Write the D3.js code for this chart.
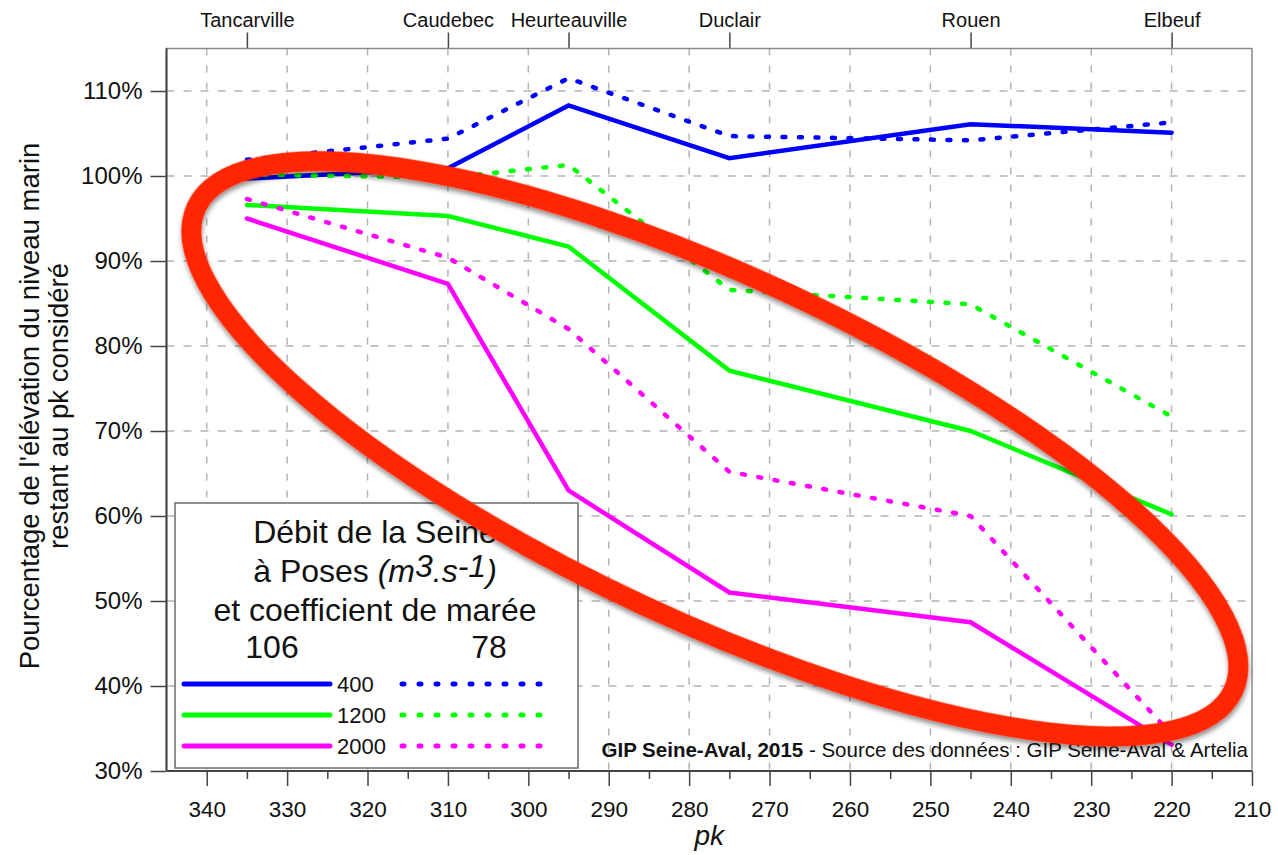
<!DOCTYPE html>
<html>
<head>
<meta charset="utf-8">
<script src="https://cdn.jsdelivr.net/npm/d3@7"></script>
<style>
  body { margin: 0; background: #fff; }
  text { font-family: "Liberation Sans", Arial, sans-serif; fill: #111; }
</style>
</head>
<body>
<div id="chart"></div>
<script>
var svgWidth = 1278;
var svgHeight = 855;

// locations along the Seine (pk) shown on the top axis
var locations = ["Tancarville", "Caudebec", "Heurteauville", "Duclair", "Rouen", "Elbeuf"];
var pkLocations = [335, 310, 295, 275, 245, 220];

// axis ticks
var pkTicks = [340, 330, 320, 310, 300, 290, 280, 270, 260, 250, 240, 230, 220, 210];
var pkMinorTicks = [335, 325, 315, 305, 295, 285, 275, 265, 255, 245, 235, 225, 215];
var pctTicks = [30, 40, 50, 60, 70, 80, 90, 100, 110];

// legend values
var debits = [400, 1200, 2000];
var coefficients = [106, 78];

// % of the sea level elevation remaining at each location
var q400_c106 = [99.7, 100.9, 108.3, 102.1, 106.1, 105.1];
var q400_c78 = [101.9, 104.4, 111.5, 104.7, 104.2, 106.3];
var q1200_c106 = [96.6, 95.3, 91.7, 77.1, 70.0, 60.2];
var q1200_c78 = [100.2, 99.8, 101.3, 86.6, 84.9, 71.7];
var q2000_c106 = [95.0, 87.3, 63.0, 51.0, 47.5, 33.1];
var q2000_c78 = [97.3, 90.4, 82.0, 65.2, 60.0, 34.3];

// hand drawn red ellipse: centre in data units [pk, %]
var loopCentre = [276.8, 67.9];

var colors = {400: "#0000ff", 1200: "#00ff00", 2000: "#ff00ff"};

var series = [
  {debit: 400, coef: 106, values: q400_c106},
  {debit: 400, coef: 78, values: q400_c78},
  {debit: 1200, coef: 106, values: q1200_c106},
  {debit: 1200, coef: 78, values: q1200_c78},
  {debit: 2000, coef: 106, values: q2000_c106},
  {debit: 2000, coef: 78, values: q2000_c78}
];

var plot = {left: 166.5, right: 1252, top: 48.5, bottom: 771};
var dotDash = "3,13.5";

var svg = d3.select("#chart")
  .append("svg")
  .attr("width", svgWidth)
  .attr("height", svgHeight);

var defs = svg.append("defs");
var shadow = defs.append("filter")
  .attr("id", "shadow")
  .attr("x", "-10%").attr("y", "-10%")
  .attr("width", "120%").attr("height", "120%");
shadow.append("feDropShadow")
  .attr("dx", 2).attr("dy", 3)
  .attr("stdDeviation", 2.5)
  .attr("flood-color", "#000")
  .attr("flood-opacity", 0.45);

var x = d3.scaleLinear().domain([345, 210]).range([plot.left, plot.right]);
var y = d3.scaleLinear().domain([30, 115]).range([plot.bottom, plot.top]);

// grid
var grid = svg.append("g").attr("class", "grid");
grid.selectAll("line.v")
  .data(pkTicks.filter(d => d > 210))
  .enter().append("line")
  .attr("x1", d => x(d)).attr("x2", d => x(d))
  .attr("y1", plot.top).attr("y2", plot.bottom)
  .attr("stroke", "#b4b4b4").attr("stroke-width", 1.5)
  .attr("stroke-dasharray", "7,10");
grid.selectAll("line.h")
  .data(pctTicks.filter(d => d > 30))
  .enter().append("line")
  .attr("x1", plot.left).attr("x2", plot.right)
  .attr("y1", d => y(d)).attr("y2", d => y(d))
  .attr("stroke", "#b4b4b4").attr("stroke-width", 1.5)
  .attr("stroke-dasharray", "8,9");

// bottom axis (pk)
var bottomAxis = svg.append("g")
  .attr("transform", `translate(0, ${plot.bottom})`)
  .call(d3.axisBottom(x).tickValues(pkTicks).tickSize(15).tickPadding(15));
bottomAxis.select(".domain").remove();
bottomAxis.selectAll("line").attr("stroke", "#444").attr("stroke-width", 1.5);
bottomAxis.selectAll("text").attr("font-size", 22.5).attr("fill", "#111");

var minorAxis = svg.append("g")
  .attr("transform", `translate(0, ${plot.bottom})`)
  .call(d3.axisBottom(x).tickValues(pkMinorTicks).tickSize(8).tickFormat(""));
minorAxis.select(".domain").remove();
minorAxis.selectAll("line").attr("stroke", "#444").attr("stroke-width", 1.5);

// left axis (%)
var leftAxis = svg.append("g")
  .attr("transform", `translate(${plot.left}, 0)`)
  .call(d3.axisLeft(y).tickValues(pctTicks).tickSize(16).tickPadding(8).tickFormat(d => d + "%"));
leftAxis.select(".domain").remove();
leftAxis.selectAll("line").attr("stroke", "#444").attr("stroke-width", 1.5);
leftAxis.selectAll("text").attr("font-size", 24).attr("fill", "#111");

// top axis (locations)
var topAxis = svg.append("g")
  .attr("transform", `translate(0, ${plot.top})`)
  .call(d3.axisTop(x).tickValues(pkLocations).tickSize(16).tickPadding(6)
    .tickFormat((d, i) => locations[i]));
topAxis.select(".domain").remove();
topAxis.selectAll("line").attr("stroke", "#444").attr("stroke-width", 1.5);
topAxis.selectAll("text").attr("font-size", 20).attr("fill", "#111");

// frame
svg.append("rect")
  .attr("x", plot.left).attr("y", plot.top)
  .attr("width", plot.right - plot.left).attr("height", plot.bottom - plot.top)
  .attr("fill", "none").attr("stroke", "#8a8a8a").attr("stroke-width", 1.5);
svg.append("line")
  .attr("x1", plot.left).attr("x2", plot.right)
  .attr("y1", plot.bottom).attr("y2", plot.bottom)
  .attr("stroke", "#444").attr("stroke-width", 2);
svg.append("line")
  .attr("x1", plot.left).attr("x2", plot.left)
  .attr("y1", plot.top).attr("y2", plot.bottom)
  .attr("stroke", "#444").attr("stroke-width", 2);

// series
var line = d3.line()
  .x((d, i) => x(pkLocations[i]))
  .y(d => y(d));

svg.append("g").selectAll("path")
  .data(series)
  .enter().append("path")
  .attr("d", d => line(d.values))
  .attr("fill", "none")
  .attr("stroke", d => colors[d.debit])
  .attr("stroke-width", 4.5)
  .attr("stroke-linecap", "round")
  .attr("stroke-dasharray", d => d.coef === 78 ? dotDash : null);

// axis titles
svg.append("text")
  .attr("x", (plot.left + plot.right) / 2)
  .attr("y", 845)
  .attr("text-anchor", "middle")
  .attr("font-size", 28)
  .attr("font-style", "italic")
  .text("pk");

var yTitle = svg.append("g").attr("transform", "rotate(-90)");
yTitle.append("text")
  .attr("x", -406).attr("y", 39)
  .attr("text-anchor", "middle")
  .attr("font-size", 27.5)
  .text("Pourcentage de l'élévation du niveau marin");
yTitle.append("text")
  .attr("x", -406).attr("y", 68)
  .attr("text-anchor", "middle")
  .attr("font-size", 27.5)
  .text("restant au pk considéré");

// legend
var legend = svg.append("g");
legend.append("rect")
  .attr("x", 175).attr("y", 503)
  .attr("width", 403).attr("height", 265)
  .attr("fill", "#fff")
  .attr("stroke", "#6a6a6a").attr("stroke-width", 1.5);

var lcx = 375;
legend.append("text").attr("x", lcx).attr("y", 543)
  .attr("text-anchor", "middle").attr("font-size", 32)
  .text("Débit de la Seine");

var l2 = legend.append("text").attr("x", lcx).attr("y", 582)
  .attr("text-anchor", "middle").attr("font-size", 32);
l2.append("tspan").text("à Poses ");
l2.append("tspan").attr("font-style", "italic").text("(m");
l2.append("tspan").attr("font-style", "italic").attr("dy", -5).text("3");
l2.append("tspan").attr("font-style", "italic").attr("dy", 5).text(".s");
l2.append("tspan").attr("font-style", "italic").attr("dy", -5).text("-1");
l2.append("tspan").attr("font-style", "italic").attr("dy", 5).text(")");

legend.append("text").attr("x", lcx).attr("y", 621)
  .attr("text-anchor", "middle").attr("font-size", 32)
  .text("et coefficient de marée");

legend.selectAll("text.coef")
  .data(coefficients)
  .enter().append("text")
  .attr("x", (d, i) => i === 0 ? 272 : 489)
  .attr("y", 658)
  .attr("text-anchor", "middle").attr("font-size", 32)
  .text(d => d);

var rows = legend.selectAll("g.row")
  .data(debits)
  .enter().append("g")
  .attr("transform", (d, i) => `translate(0, ${684 + i * 31})`);
rows.append("line")
  .attr("x1", 184).attr("x2", 330)
  .attr("stroke", d => colors[d]).attr("stroke-width", 5)
  .attr("stroke-linecap", "round");
rows.append("line")
  .attr("x1", 402).attr("x2", 541)
  .attr("stroke", d => colors[d]).attr("stroke-width", 5)
  .attr("stroke-linecap", "round")
  .attr("stroke-dasharray", "2,15");
rows.append("text")
  .attr("x", 337).attr("y", 8)
  .attr("font-size", 22)
  .text(d => d);

// credit
var credit = svg.append("text")
  .attr("x", 1248).attr("y", 757)
  .attr("text-anchor", "end")
  .attr("font-size", 20.5);
credit.append("tspan").attr("font-weight", "bold").text("GIP Seine-Aval, 2015");
credit.append("tspan").text(" - Source des données : GIP Seine-Aval & Artelia");

// red ellipse annotation
svg.append("ellipse")
  .attr("transform", `translate(${x(loopCentre[0])}, ${y(loopCentre[1])}) rotate(25)`)
  .attr("rx", 572)
  .attr("ry", 172)
  .attr("fill", "none")
  .attr("stroke", "#ff2600")
  .attr("stroke-width", 20)
  .attr("filter", "url(#shadow)");
</script>
</body>
</html>
